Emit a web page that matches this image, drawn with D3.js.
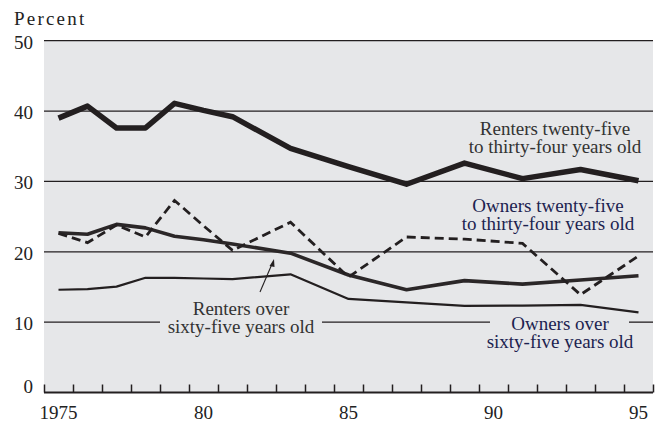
<!DOCTYPE html>
<html><head><meta charset="utf-8">
<script src="https://cdn.jsdelivr.net/npm/d3@7"></script>
<style>html,body{margin:0;padding:0;background:#fff;}svg{display:block;font-family:"Liberation Serif",serif;}</style>
</head><body>
<script>
const years = [1975,1976,1977,1978,1979,1980,1981,1983,1985,1987,1989,1991,1993,1995];
const renters2534 = [39.0,40.7,37.6,37.6,41.1,40.1,39.2,34.7,32.1,29.6,32.6,30.4,31.7,30.1];
const owners2534  = [22.6,21.3,23.8,22.1,27.3,23.7,20.2,24.2,16.4,22.1,21.8,21.2,13.9,19.4];
const renters65   = [22.7,22.5,23.9,23.4,22.2,21.7,21.1,19.8,16.7,14.6,15.9,15.4,16.0,16.6];
const owners65    = [14.6,14.7,15.05,16.3,16.3,16.2,16.1,16.8,13.3,12.8,12.3,12.35,12.45,11.4];
const yTicks = [0,10,20,30,40,50];
const xLabels = [1975,1980,1985,1990,1995];
const xLabelText = ["1975","80","85","90","95"];

const W=660,H=424;
const svg=d3.select("body").append("svg").attr("width",W).attr("height",H);
const x=d3.scaleLinear().domain([1975,1996]).range([44,653]);
const y=d3.scaleLinear().domain([0,50]).range([392.5,40.7]);
const ink="#231f20";

svg.append("rect").attr("x",x(1975)).attr("y",y(50)).attr("width",x(1996)-x(1975)).attr("height",y(0)-y(50)).attr("fill","#e6e7e9");

// gridlines
yTicks.filter(d=>d>0 && d!==10).forEach(d=>{
  svg.append("line").attr("x1",x(1975)).attr("x2",x(1996)).attr("y1",y(d)).attr("y2",y(d)).attr("stroke",ink).attr("stroke-width",1.3);
});
[[44,160],[322,490],[629,653]].forEach(s=>{
  svg.append("line").attr("x1",s[0]).attr("x2",s[1]).attr("y1",y(10)).attr("y2",y(10)).attr("stroke",ink).attr("stroke-width",1.3);
});

// bottom axis
const xAxis=d3.axisBottom(x).tickValues(d3.range(1975,1997)).tickSize(-8).tickFormat("");
const ax=svg.append("g").attr("transform",`translate(0,${y(0)})`).call(xAxis);
ax.select(".domain").attr("stroke",ink).attr("stroke-width",2).attr("d",`M${x(1975)},0H${x(1996)}`);
ax.selectAll(".tick line").attr("stroke",ink).attr("stroke-width",1.5);

// x labels
svg.selectAll(".xl").data(xLabels).enter().append("text")
  .attr("x",d=>x(d+0.5)).attr("y",419).attr("text-anchor","middle")
  .attr("font-size",19).attr("fill","#222").text((d,i)=>xLabelText[i]);
// y labels
svg.selectAll(".yl").data(yTicks).enter().append("text")
  .attr("x",33).attr("y",d=>d===0?y(0):y(d)+8).attr("text-anchor","end")
  .attr("font-size",19).attr("fill","#222").text(d=>d);
svg.append("text").attr("x",14).attr("y",25).attr("font-size",19).attr("letter-spacing",2.2).attr("fill","#222").text("Percent");

const line=d3.line().x((d,i)=>x(years[i]+0.5)).y(d=>y(d));
svg.append("path").attr("d",line(owners65)).attr("fill","none").attr("stroke",ink).attr("stroke-width",2.2).attr("stroke-linejoin","round");
svg.append("path").attr("d",line(renters65)).attr("fill","none").attr("stroke","#2b2728").attr("stroke-width",3.6).attr("stroke-linejoin","round");
svg.append("path").attr("d",line(owners2534)).attr("fill","none").attr("stroke",ink).attr("stroke-width",2.8).attr("stroke-dasharray","9,5");
svg.append("path").attr("d",line(renters2534)).attr("fill","none").attr("stroke",ink).attr("stroke-width",5.5).attr("stroke-linejoin","round");

// labels (one text element per label, lines as tspans)
function label(cx,by,lines,color){
  const t=svg.append("text").attr("x",cx).attr("y",by).attr("text-anchor","middle")
    .attr("font-size",19).attr("fill",color);
  lines.forEach((s,i)=>t.append("tspan").attr("x",cx).attr("dy",i===0?0:18.3).text(s));
}
label(555,135,["Renters twenty-five","to thirty-four years old"],"#333");
label(548,211.5,["Owners twenty-five","to thirty-four years old"],"#1c2350");
label(241,315,["Renters over","sixty-five years old"],"#333");
label(560,330,["Owners over","sixty-five years old"],"#1c2350");

// arrow
svg.append("line").attr("x1",260).attr("y1",292).attr("x2",272).attr("y2",264).attr("stroke",ink).attr("stroke-width",1.1);
svg.append("path").attr("d","M274,259 L269.5,266 L274.5,267 Z").attr("fill",ink);
</script>
</body></html>
